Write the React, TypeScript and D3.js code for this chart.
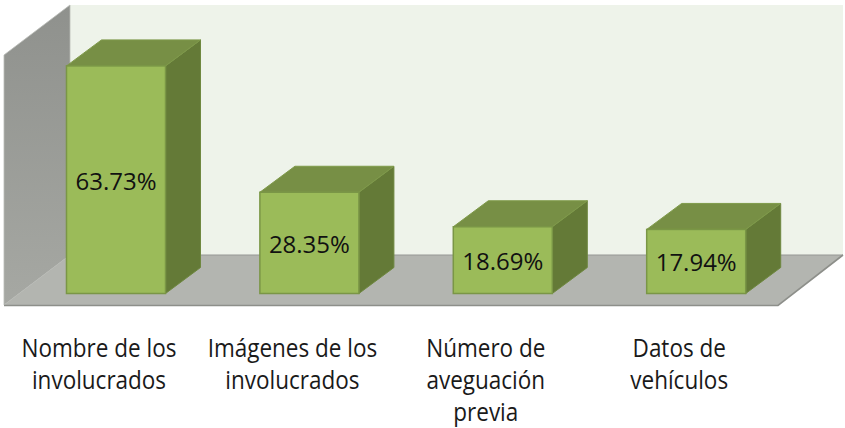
import React from 'react';
import * as d3 from 'd3';

const categories = ['Nombre de los involucrados', 'Imágenes de los involucrados', 'Número de aveguación previa', 'Datos de vehículos'];
const labelLines = [['Nombre de los', 'involucrados'], ['Imágenes de los', 'involucrados'], ['Número de', 'aveguación', 'previa'], ['Datos de', 'vehículos']];
const values = [63.73, 28.35, 18.69, 17.94];

const width = 845;
const height = 428;
const depthX = 35;
const depthY = 26;

const x = d3.scaleBand<string>()
  .domain(categories)
  .range([19.3, 792.9])
  .paddingInner(0.488)
  .paddingOuter(0.244);

const y = d3.scaleLinear().domain([0, 70]).range([293.5, 43.5]);

const line = d3.line();
const poly = (pts: [number, number][]) => line(pts) + 'Z';

export default function App() {
  const wallX0 = 4;
  const wallX1 = 70;
  const wallTop = 5;
  const floorBack = 255;
  const floorFront = 305;
  const floorRight = 778;
  const backRight = 843;

  return (
    <svg width={width} height={height} style={{ position: 'absolute', left: 0, top: 0, background: '#fff' }}>
      <defs>
        <linearGradient id="wallGrad" x1="0" y1="0" x2="0" y2="1">
          <stop offset="0" stopColor="#8f918d" />
          <stop offset="1" stopColor="#a6a8a3" />
        </linearGradient>
      </defs>

      {/* back wall, side wall and floor */}
      <path d={poly([[wallX1, wallTop], [backRight, wallTop], [backRight, floorBack], [wallX1, floorBack]])} fill="#eef3ea" />
      <path d={poly([[wallX0, wallTop + (floorFront - floorBack)], [wallX1, wallTop], [wallX1, floorBack], [wallX0, floorFront]])} fill="url(#wallGrad)" stroke="#b9bbb6" strokeWidth={0.8} />
      <path d={poly([[wallX1, floorBack], [backRight, floorBack], [floorRight, floorFront], [wallX0, floorFront]])} fill="#b3b5b0" />
      <path d={`M${wallX1},${floorBack}H${backRight}`} stroke="#969893" strokeWidth={1.2} fill="none" />
      <path d={line([[wallX0, floorFront + 0.5], [floorRight, floorFront + 0.5], [backRight, floorBack]])!} stroke="#8d8f8a" strokeWidth={1.6} fill="none" />

      {categories.map((c, i) => {
        const x0 = x(c)!;
        const x1 = x0 + x.bandwidth();
        const top = y(values[i]);
        const base = y(0);
        const center = (x0 + x1) / 2;
        return (
          <g key={c}>
            <path d={poly([[x1, top], [x1 + depthX, top - depthY], [x1 + depthX, base - depthY], [x1, base]])} fill="#647a37" stroke="#6f8840" strokeWidth={1} strokeLinejoin="round" />
            <path d={poly([[x0, top], [x0 + depthX, top - depthY], [x1 + depthX, top - depthY], [x1, top]])} fill="#778f45" stroke="#7f9a4a" strokeWidth={1} strokeLinejoin="round" />
            <rect x={x0} y={top} width={x1 - x0} height={base - top} fill="#9bbb59" stroke="#7a9646" strokeWidth={1.5} />
            <text x={center} y={(top + base) / 2 + 10} textAnchor="middle" fontFamily="'Open Sans', sans-serif" fontSize={23} fill="#111" textLength={81} lengthAdjust="spacingAndGlyphs">
              {values[i].toFixed(2)}%
            </text>
            <text transform={`translate(${center - 17},0) scale(0.9,1)`} textAnchor="middle" fontFamily="'Open Sans', sans-serif" fontSize={25} fill="#1a1a1a">
              {labelLines[i].map((t, j) => (
                <tspan key={t} x={0} y={357 + j * 32}>{t}</tspan>
              ))}
            </text>
          </g>
        );
      })}
    </svg>
  );
}
